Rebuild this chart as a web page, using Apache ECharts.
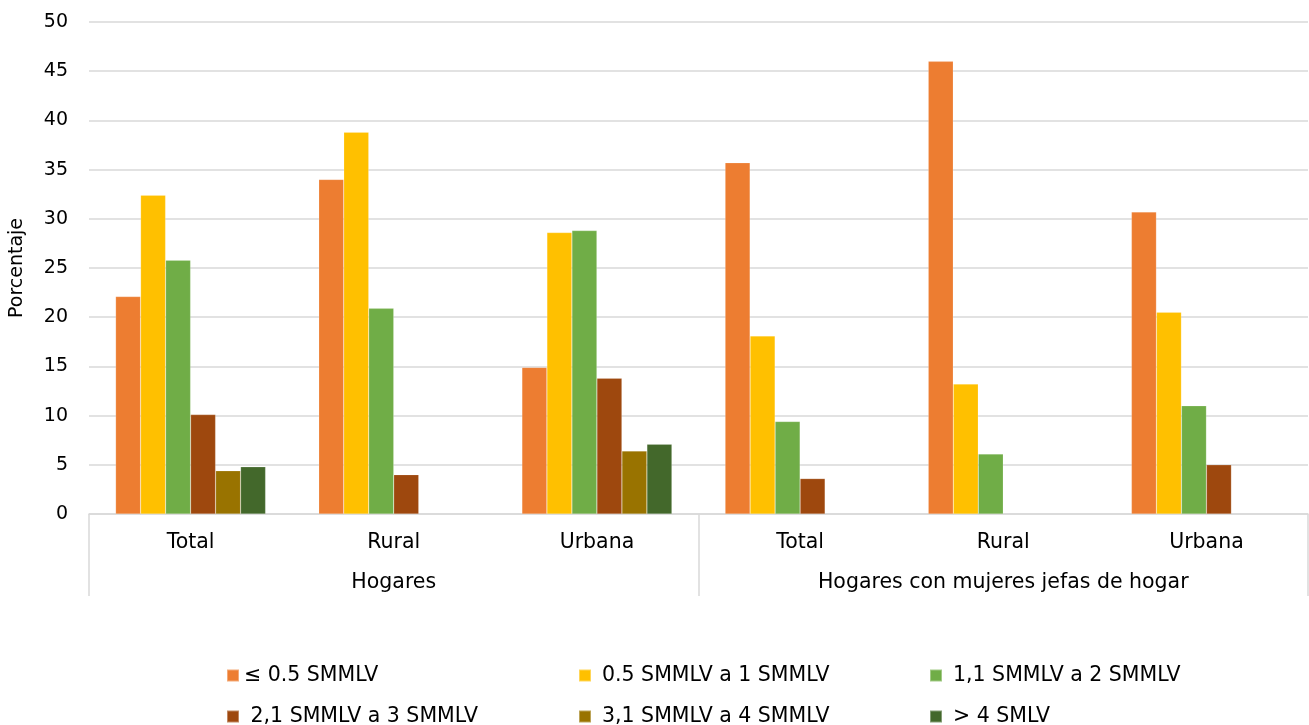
<!DOCTYPE html>
<html>
<head>
<meta charset="utf-8">
<script src="https://cdn.jsdelivr.net/npm/echarts@6/dist/echarts.min.js"></script>
<style>html,body{margin:0;padding:0;background:#fff;}#c{width:1309px;height:725px;}</style>
</head>
<body>
<div id="c"></div>
<script>
const categories = ['Total', 'Rural', 'Urbana', 'Total', 'Rural', 'Urbana'];
const groups = ['Hogares', 'Hogares con mujeres jefas de hogar'];
const seriesNames = ['≤ 0.5 SMMLV', '0.5 SMMLV a 1 SMMLV', '1,1 SMMLV a 2 SMMLV', ' 2,1 SMMLV a 3 SMMLV', '3,1 SMMLV a 4 SMMLV', '> 4 SMLV'];
const colors = ['#ED7D31', '#FFC000', '#70AD47', '#9E480E', '#997300', '#43682B'];
const s1 = [22.1, 34.0, 14.9, 35.7, 46.0, 30.7];
const s2 = [32.4, 38.8, 28.6, 18.1, 13.2, 20.5];
const s3 = [25.8, 20.9, 28.8, 9.4, 6.1, 11.0];
const s4 = [10.1, 4.0, 13.8, 3.6, null, 5.0];
const s5 = [4.4, null, 6.4, null, null, null];
const s6 = [4.8, null, 7.1, null, null, null];
const allSeries = [s1, s2, s3, s4, s5, s6];
const yTicks = {min: 0, max: 50, interval: 5};

const FONT = 'DejaVu Sans';
const chart = echarts.init(document.getElementById('c'), null, {renderer: 'canvas'});

const legendLefts = [226, 578, 929];
const legendTops = [665, 706];
const legends = seriesNames.map((n, i) => ({
  data: [n],
  left: legendLefts[i % 3],
  top: legendTops[Math.floor(i / 3)],
  itemWidth: 12,
  itemHeight: 12,
  itemGap: 0,
  icon: 'rect',
  selectedMode: false,
  padding: 0,
  textStyle: {fontFamily: FONT, fontSize: 20.5, color: '#000', padding: [0, 0, 0, (i % 3 === 0) ? 0 : 6]}
}));

chart.setOption({
  animation: false,
  color: colors,
  textStyle: {fontFamily: FONT},
  legend: legends,
  grid: {left: 87, right: 1, top: 22, bottom: 211, containLabel: false},
  xAxis: [
    {
      type: 'category',
      data: categories,
      axisLine: {show: true, lineStyle: {color: '#d9d9d9', width: 1.5}},
      axisTick: {show: false},
      axisLabel: {fontFamily: FONT, fontSize: 20.5, color: '#000', margin: 18, interval: 0}
    },
    {
      type: 'category',
      data: groups,
      position: 'bottom',
      axisLine: {show: false},
      axisTick: {show: true, length: 82, lineStyle: {color: '#d9d9d9', width: 1.5}},
      axisLabel: {fontFamily: FONT, fontSize: 20.5, color: '#000', margin: 58, interval: 0}
    }
  ],
  yAxis: {
    type: 'value',
    min: yTicks.min, max: yTicks.max, interval: yTicks.interval,
    name: 'Porcentaje',
    nameLocation: 'middle',
    nameGap: 62,
    nameTextStyle: {fontFamily: FONT, fontSize: 19, color: '#000'},
    axisLine: {show: false},
    axisTick: {show: false},
    axisLabel: {fontFamily: FONT, fontSize: 19, color: '#000', margin: 21},
    splitLine: {lineStyle: {color: '#d9d9d9', width: 1.5}}
  },
  series: allSeries.map((d, i) => ({
    name: seriesNames[i],
    type: 'bar',
    xAxisIndex: 0,
    data: d,
    barWidth: 25,
    barGap: '0%',
    itemStyle: {color: colors[i], borderColor: 'rgba(255,255,255,0.35)', borderWidth: 0.5}
  }))
});
</script>
</body>
</html>
